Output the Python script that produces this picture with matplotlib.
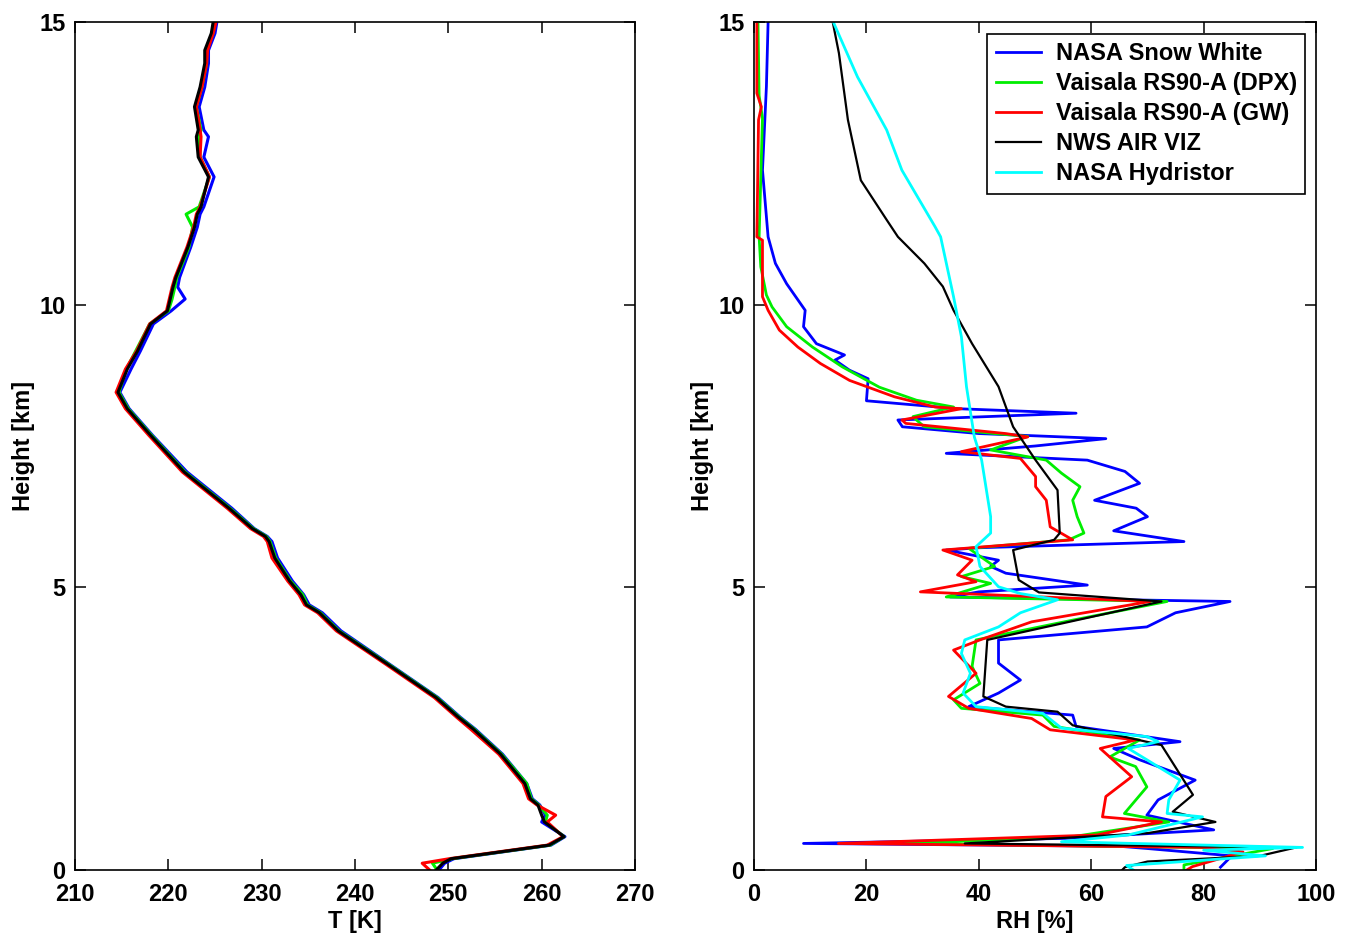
import matplotlib
matplotlib.use('Agg')
import matplotlib.pyplot as plt

# left panel: temperature profiles, shared height grid [km]
z_t = [0.0, 0.12, 0.2, 0.44, 0.59, 0.85, 0.97, 1.15, 1.26, 1.53, 2.05, 2.49, 2.70, 3.05,
       3.64, 4.23, 4.55, 4.69, 4.87, 5.11, 5.52, 5.81, 5.90, 6.04, 6.40, 7.04, 7.69,
       8.16, 8.45, 8.86, 9.18, 9.66, 9.89, 10.1, 10.31, 10.48, 11.02, 11.37, 11.6,
       11.73, 12.26, 12.61, 12.97, 13.09, 13.50, 13.85, 14.27, 14.50, 14.80, 15.0]
t_black = [248.7, 249.4, 250.3, 260.8, 262.4, 260.3, 260.0, 259.6, 258.8, 258.2, 255.6,
           252.7, 251.1, 248.7, 243.5, 238.2, 236.2, 234.8, 234.2, 233.0, 231.4, 230.8,
           230.4, 229.0, 226.5, 221.7, 218.1, 215.6, 214.6, 215.6, 216.7, 218.1, 219.9,
           220.2, 220.5, 220.8, 222.1, 222.8, 223.1, 223.5, 224.3, 223.2, 223.0, 223.2,
           222.8, 223.4, 223.9, 223.9, 224.6, 224.8]
t_blue = [249.0, 249.6, 250.6, 261.0, 262.5, 260.0, 260.4, 259.8, 259.0, 258.4, 255.8,
          252.9, 251.3, 248.9, 243.7, 238.5, 236.5, 235.1, 234.5, 233.3, 231.7, 231.1,
          230.6, 229.2, 226.8, 222.0, 218.3, 215.8, 214.8, 216.0, 217.0, 218.4, 220.3,
          221.8, 221.0, 221.2, 222.4, 223.1, 223.4, 223.8, 224.9, 223.8, 224.3, 223.8,
          223.3, 223.9, 224.3, 224.3, 225.0, 225.2]
t_green = [248.8, 248.3, 250.4, 260.9, 262.4, 260.4, 260.6, 259.7, 258.9, 258.4, 255.7,
           252.8, 251.2, 248.8, 243.6, 238.3, 236.3, 234.9, 234.4, 233.1, 231.5, 230.9,
           230.5, 229.1, 226.6, 221.8, 218.2, 215.7, 214.7, 215.5, 216.5, 218.0, 220.0,
           220.4, 220.7, 220.9, 222.2, 222.6, 221.9, 223.3, 224.4, 223.4, 223.3, 223.5,
           223.0, 223.6, 224.1, 224.1, 224.8, 225.0]
t_red = [248.0, 247.2, 250.1, 260.6, 262.3, 260.6, 261.5, 259.5, 258.6, 258.0, 255.4,
         252.4, 250.9, 248.5, 243.3, 238.0, 236.0, 234.6, 234.0, 232.8, 231.1, 230.6,
         230.2, 228.8, 226.3, 221.5, 217.9, 215.4, 214.4, 215.4, 216.6, 218.0, 219.8,
         220.1, 220.4, 220.7, 222.0, 222.7, 223.0, 223.4, 224.4, 223.4, 223.5, 223.4,
         223.0, 223.6, 224.1, 224.2, 224.8, 225.1]

# right panel: relative humidity profiles (height [km], RH [%])
z_blue = [15.0, 13.86, 12.38, 11.2, 10.73, 10.37, 9.90, 9.61, 9.31, 9.11, 9.02, 8.84, 8.69,
          8.30, 8.16, 8.08, 7.96, 7.84, 7.72, 7.63, 7.50, 7.37, 7.25, 7.05, 6.84, 6.54,
          6.40, 6.25, 6.00, 5.81, 5.70, 5.66, 5.48, 5.37, 5.25, 5.04, 4.92, 4.83, 4.75,
          4.55, 4.30, 4.07, 3.66, 3.36, 3.13, 2.89, 2.74, 2.54, 2.27, 2.15, 1.95, 1.59,
          1.24, 0.97, 0.71, 0.56, 0.47, 0.42, 0.38, 0.25, 0.05]
rh_blue = [2.5, 2.2, 1.5, 2.5, 3.8, 5.8, 9.1, 8.8, 11.1, 16.1, 14.4, 17.0, 20.3,
           20.0, 36.2, 57.3, 25.6, 26.4, 40.0, 62.6, 50.0, 34.2, 59.3, 66.0, 68.6, 60.6,
           68.0, 70.0, 64.0, 76.5, 40.0, 34.2, 43.5, 42.1, 44.8, 59.3, 40.0, 34.9, 84.7,
           75.0, 69.9, 43.5, 43.5, 47.4, 43.5, 38.2, 56.7, 57.3, 75.8, 64.0, 68.6, 78.5,
           71.9, 69.9, 81.8, 55.4, 8.8, 65.0, 70.0, 85.0, 83.0]

z_green = [15.0, 13.7, 13.3, 11.2, 10.67, 10.17, 9.96, 9.61, 9.25, 8.90, 8.54, 8.31, 8.19,
           8.02, 7.96, 7.84, 7.72, 7.67, 7.43, 7.25, 7.02, 6.78, 6.54, 6.25, 5.96, 5.84,
           5.69, 5.37, 5.19, 5.07, 4.83, 4.75, 4.42, 4.07, 3.60, 3.30, 3.01, 2.86, 2.74,
           2.54, 2.30, 2.00, 1.83, 1.47, 1.00, 0.85, 0.59, 0.47, 0.38, 0.09, 0.0]
rh_green = [0.7, 0.9, 1.5, 0.9, 1.2, 2.2, 3.2, 5.8, 10.4, 15.7, 22.3, 28.9, 35.5,
            28.3, 28.9, 30.3, 42.8, 48.7, 42.1, 52.0, 54.7, 58.0, 56.7, 57.5, 58.7, 56.0,
            38.2, 42.8, 36.9, 42.1, 34.2, 73.5, 56.7, 39.5, 38.8, 40.2, 35.5, 36.9, 51.4,
            53.4, 68.6, 63.3, 67.9, 69.9, 65.9, 73.8, 56.7, 27.0, 92.3, 76.5, 76.5]

z_red = [15.0, 13.74, 13.5, 13.27, 11.2, 11.14, 10.14, 9.90, 9.55, 9.25, 8.96, 8.66, 8.37,
         8.19, 8.16, 7.96, 7.90, 7.72, 7.66, 7.40, 7.28, 6.96, 6.78, 6.54, 6.07, 5.84,
         5.66, 5.48, 5.22, 5.10, 4.92, 4.75, 4.39, 4.07, 3.89, 3.48, 3.07, 2.86, 2.68,
         2.48, 2.30, 2.15, 1.65, 1.30, 0.94, 0.85, 0.62, 0.47, 0.40, 0.32, 0.06, 0.0]
rh_red = [0.5, 0.5, 1.3, 0.8, 0.5, 1.5, 1.5, 2.5, 4.5, 7.8, 11.8, 17.0, 25.0,
          32.2, 36.9, 26.3, 27.0, 44.8, 48.7, 36.9, 47.4, 50.1, 50.1, 52.0, 52.7, 56.7,
          33.6, 38.8, 36.2, 39.5, 29.6, 70.5, 49.4, 40.2, 35.5, 39.5, 34.6, 38.2, 49.4,
          52.7, 67.9, 61.6, 67.2, 62.6, 62.0, 72.5, 61.0, 15.0, 80.0, 87.0, 78.0, 77.0]

z_black = [15.0, 14.45, 13.27, 12.20, 11.50, 11.20, 10.73, 10.32, 9.90, 9.31, 8.55, 7.84,
           7.25, 6.72, 5.96, 5.84, 5.66, 5.13, 4.91, 4.75, 4.07, 3.07, 2.89, 2.80, 2.56,
           2.21, 1.33, 1.03, 0.85, 0.65, 0.47, 0.40, 0.25, 0.15, 0.05, 0.0]
rh_black = [14.0, 15.1, 16.7, 19.0, 23.6, 25.6, 30.3, 33.6, 35.5, 38.8, 43.5, 46.1,
            50.1, 54.0, 54.4, 53.4, 46.1, 47.1, 50.7, 72.5, 41.5, 40.8, 44.8, 54.0, 56.7,
            72.5, 78.1, 74.5, 82.1, 69.9, 37.5, 96.5, 90.0, 70.0, 66.0, 65.5]

z_cyan = [15.0, 14.03, 13.09, 12.38, 11.38, 11.20, 10.14, 9.43, 8.55, 7.66, 7.25, 6.25,
          5.96, 5.72, 5.37, 5.01, 4.89, 4.78, 4.55, 4.30, 4.07, 3.83, 3.48, 3.13, 2.89,
          2.77, 2.51, 2.36, 2.27, 2.15, 1.95, 1.59, 1.24, 1.00, 0.94, 0.62, 0.50, 0.40,
          0.35, 0.25, 0.08, 0.0]
rh_cyan = [14.1, 18.4, 23.6, 26.3, 32.2, 33.2, 35.5, 36.9, 37.8, 39.2, 40.5, 42.1,
           42.1, 39.5, 40.2, 43.5, 47.4, 54.0, 47.4, 43.5, 37.5, 36.9, 38.5, 37.2, 39.5,
           51.4, 54.7, 69.9, 71.9, 66.6, 69.9, 75.8, 73.8, 73.5, 79.8, 66.6, 54.7, 97.6,
           80.0, 91.0, 66.3, 67.5]

labels = ['NASA Snow White', 'Vaisala RS90-A (DPX)', 'Vaisala RS90-A (GW)',
          'NWS AIR VIZ', 'NASA Hydristor']
colors = ['#0000ff', '#00ee00', '#ff0000', 'black', '#00ffff']

plt.rcParams['font.family'] = 'Liberation Sans'
plt.rcParams['font.weight'] = 'bold'
fs = 17

fig = plt.figure(figsize=(13.47, 9.36), dpi=100)
ax1 = fig.add_axes([0.0557, 0.0705, 0.4157, 0.906])
ax2 = fig.add_axes([0.5598, 0.0705, 0.4172, 0.906])

for ax in (ax1, ax2):
    ax.tick_params(direction='in', length=8, width=1.1, top=True, right=True,
                   labelsize=fs)
    ax.tick_params(axis='x', pad=9)
    ax.tick_params(axis='y', pad=7)
    for s in ax.spines.values():
        s.set_linewidth(1.2)
    ax.set_ylim(0, 15)
    ax.set_yticks([0, 5, 10, 15])
    ax.set_ylabel('Height [km]', fontsize=fs, fontweight='bold', labelpad=3)

# temperature
ax1.plot(t_blue, z_t, color=colors[0], lw=2.2)
ax1.plot(t_green, z_t, color=colors[1], lw=2.2)
ax1.plot(t_red, z_t, color=colors[2], lw=2.2)
ax1.plot(t_black, z_t, color=colors[3], lw=2.2)
ax1.set_xlim(210, 270)
ax1.set_xticks(range(210, 271, 10))
ax1.set_xlabel('T [K]', fontsize=fs, fontweight='bold', labelpad=3)

# humidity
ax2.plot(rh_blue, z_blue, color=colors[0], lw=2.0, label=labels[0])
ax2.plot(rh_green, z_green, color=colors[1], lw=2.0, label=labels[1])
ax2.plot(rh_red, z_red, color=colors[2], lw=2.0, label=labels[2])
ax2.plot(rh_black, z_black, color=colors[3], lw=1.6, label=labels[3])
ax2.plot(rh_cyan, z_cyan, color=colors[4], lw=2.0, label=labels[4])
ax2.set_xlim(0, 100)
ax2.set_xticks(range(0, 101, 20))
ax2.set_xlabel('RH [%]', fontsize=fs, fontweight='bold', labelpad=3)

leg = ax2.legend(loc='upper right', bbox_to_anchor=(0.981, 0.986), fancybox=False,
                 edgecolor='black', framealpha=1, fontsize=fs, handlelength=1.9,
                 labelspacing=0.3, borderpad=0.35, handletextpad=0.65,
                 borderaxespad=0)
leg.get_frame().set_linewidth(1.2)

plt.savefig('out.png', dpi=100)
